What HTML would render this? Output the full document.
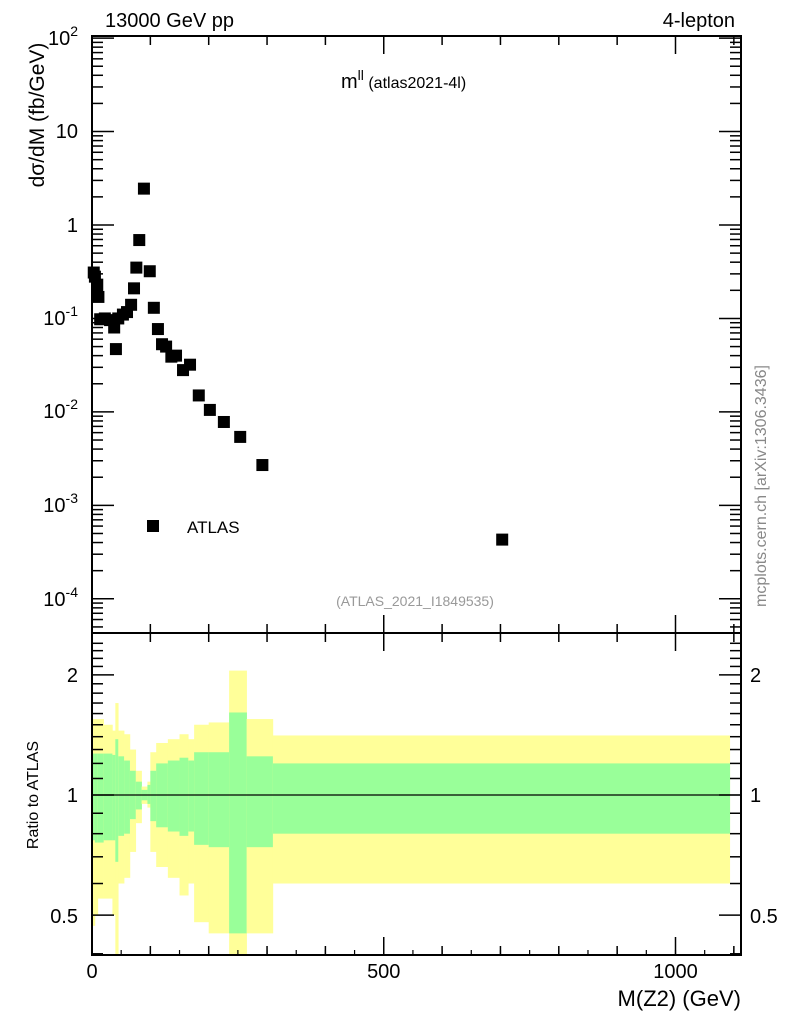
<!DOCTYPE html>
<html><head><meta charset="utf-8"><style>
body{margin:0;background:#fff;}
svg{display:block;font-family:"Liberation Sans",Arial,sans-serif;}
</style></head><body>
<svg id="c" width="786" height="1024"></svg>
<script>
// data
const xVals=[3,5,9,11,14,22,31,38,41,45,53,60,67,72,76,81,89,99,106,113,120,127,136,144,156,168,183,202,226,254,292,703];
const yVals=[0.31,0.28,0.23,0.17,0.098,0.1,0.096,0.08,0.047,0.1,0.11,0.117,0.14,0.21,0.35,0.69,2.45,0.32,0.13,0.077,0.053,0.05,0.039,0.04,0.028,0.032,0.015,0.0105,0.0078,0.0054,0.0027,0.00043];
const binEdges=[0,5,10,20,35,40,45,55,65,75,85,95,100,110,130,150,165,175,200,235,265,310,1093];
const yelUp=[1.55,1.55,1.55,1.5,1.45,1.7,1.45,1.42,1.3,1.15,1.05,1.08,1.28,1.35,1.38,1.42,1.38,1.5,1.52,2.05,1.55,1.41];
const yelDn=[0.47,0.5,0.55,0.55,0.5,0.38,0.6,0.62,0.72,0.85,0.95,0.93,0.72,0.66,0.62,0.56,0.6,0.48,0.45,0.3,0.45,0.6];
const grnUp=[1.27,1.27,1.27,1.27,1.26,1.38,1.25,1.22,1.15,1.08,1.03,1.06,1.15,1.2,1.22,1.24,1.22,1.28,1.28,1.61,1.25,1.2];
const grnDn=[0.77,0.76,0.76,0.77,0.77,0.68,0.79,0.8,0.87,0.92,0.97,0.95,0.86,0.83,0.81,0.79,0.81,0.75,0.74,0.45,0.74,0.8];
const xTicks=[0,500,1000];
const yTickLabels=["10","1","10\u207B\u00B9"];

const NS="http://www.w3.org/2000/svg";
const svg=document.getElementById('c');
function mk(t,a,txt){const e=document.createElementNS(NS,t);for(const k in a)e.setAttribute(k,a[k]);if(txt!==undefined)e.textContent=txt;svg.appendChild(e);return e;}
const L=92,R=741,T=36,MB=633,B=955;
const xs=v=>L+v*0.5835;
const ys=v=>225-93.45*Math.log10(v);
const rs=v=>795-399*Math.log10(v);

// ratio bands
for(let i=0;i<binEdges.length-1;i++){
  const x0=xs(binEdges[i]),x1=xs(binEdges[i+1]);
  let r=mk('rect',{x:x0,y:Math.max(T,rs(yelUp[i])),width:x1-x0+0.3,height:Math.min(B,rs(yelDn[i]))-Math.max(MB,rs(yelUp[i])),fill:'#ffff99'});
  
  
  let g=mk('rect',{x:x0,y:rs(grnUp[i]),width:x1-x0+0.3,height:rs(grnDn[i])-rs(grnUp[i]),fill:'#99ff99'});
  
  
}
mk('line',{x1:L,x2:R,y1:rs(1),y2:rs(1),stroke:'#000','stroke-width':1.2,});

// points
for(let i=0;i<xVals.length;i++){
  const p=mk('rect',{x:xs(xVals[i])-6,y:ys(yVals[i])-6,width:12,height:12,fill:'#000'});
  
  
}

// frames
mk('rect',{x:L,y:T,width:R-L,height:MB-T,fill:'none',stroke:'#000','stroke-width':2,});
mk('rect',{x:L,y:MB,width:R-L,height:B-MB,fill:'none',stroke:'#000','stroke-width':2,});

// main y ticks
for(let d=-5;d<=2;d++){
  for(let m=1;m<10;m++){
    const v=m*Math.pow(10,d),y=ys(v);
    if(y<T||y>MB)continue;
    const len=m===1?22:11;
    mk('line',{x1:L,x2:L+len,y1:y,y2:y,stroke:'#000','stroke-width':1.5});
    mk('line',{x1:R,x2:R-len,y1:y,y2:y,stroke:'#000','stroke-width':1.5});
  }
}
// ratio y ticks
for(let v=0.4;v<=2.5;v+=0.1){
  const y=rs(v);if(y<MB||y>B)continue;
  const maj=Math.abs(v-0.5)<1e-6||Math.abs(v-1)<1e-6||Math.abs(v-2)<1e-6;
  const len=maj?22:11;
  mk('line',{x1:L,x2:L+len,y1:y,y2:y,stroke:'#000','stroke-width':1.5});
  mk('line',{x1:R,x2:R-len,y1:y,y2:y,stroke:'#000','stroke-width':1.5});
}
// x ticks
for(let v=0;v<=1100;v+=100){
  const x=xs(v),len=v%500===0?18:9;
  [[T,1],[MB,-1],[MB,1],[B,-1]].forEach(([y,s])=>mk('line',{x1:x,x2:x,y1:y,y2:y+s*len,stroke:'#000','stroke-width':1.5}));
}
for(let v=0;v<=1100;v+=50){const x=xs(v);mk('line',{x1:x,x2:x,y1:B,y2:B-5,stroke:'#000','stroke-width':1.2});}

// labels
const tl=(x,y,t,o)=>mk('text',Object.assign({x:x,y:y,'font-size':20},o||{}),t);
let yl=[['10',131],['1',225]];
mk('text',{x:78,y:45,'font-size':20,'text-anchor':'end',},'10').innerHTML='10<tspan dy="-9" font-size="14">2</tspan>';
yTickLabels.slice(0,2).forEach((t,i)=>{mk('text',{x:78,y:[138,232][i],'font-size':20,'text-anchor':'end',},t);});
[[-1,325],[-2,418],[-3,512],[-4,606]].forEach(([e,y])=>{
  const t=mk('text',{x:78,y:y,'font-size':20,'text-anchor':'end',});
  t.innerHTML='10<tspan dy="-9" font-size="14">'+e+'</tspan>';
});
[['2',675],['1',795],['0.5',916]].forEach(([t,y])=>{
  mk('text',{x:78,y:y+7,'font-size':20,'text-anchor':'end',},t);
  mk('text',{x:750,y:y+7,'font-size':20,},t);
});
xTicks.forEach(v=>{
  const t=mk('text',{x:xs(v),y:978,'font-size':20,'text-anchor':'middle'},String(v));
  
  
});
mk('text',{x:741,y:1006,'font-size':22,'text-anchor':'end',},'M(Z2) (GeV)');
mk('text',{x:0,y:0,'font-size':21,'text-anchor':'middle',transform:'translate(44,115) rotate(-90)',},'dσ/dM (fb/GeV)');
mk('text',{x:0,y:0,'font-size':16,'text-anchor':'middle',transform:'translate(38,795) rotate(-90)',},'Ratio to ATLAS');
mk('text',{x:105,y:27,'font-size':20,},'13000 GeV pp');
mk('text',{x:735,y:27,'font-size':20,'text-anchor':'end',},'4-lepton');
const ti=mk('text',{x:341,y:88,'font-size':20,});
ti.innerHTML='m<tspan dy="-8" font-size="14">ll</tspan><tspan dy="8" font-size="16"> (atlas2021-4l)</tspan>';
mk('text',{x:415,y:606,'font-size':14,fill:'#999','text-anchor':'middle',},'(ATLAS_2021_I1849535)');
mk('text',{x:0,y:0,'font-size':16,fill:'#888','text-anchor':'middle',transform:'translate(766,486) rotate(-90)',},'mcplots.cern.ch [arXiv:1306.3436]');
mk('rect',{x:147,y:520,width:12,height:12,fill:'#000',});
mk('text',{x:187,y:533,'font-size':17,},'ATLAS');
</script>
</body></html>
